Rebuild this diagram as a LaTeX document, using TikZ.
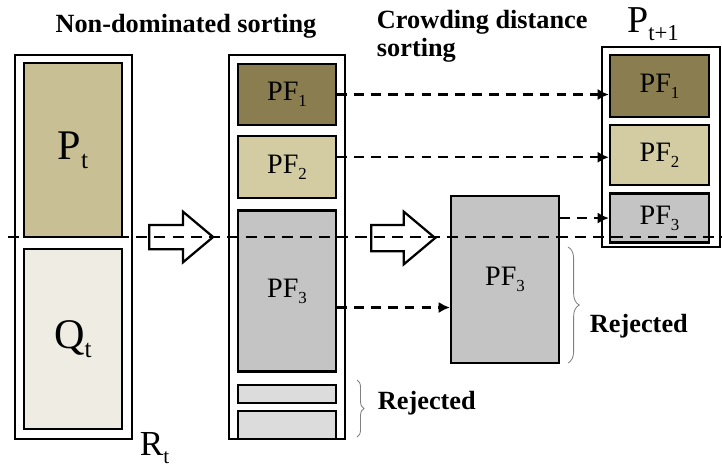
\documentclass[tikz,border=0pt]{standalone}
\usepackage{fontspec}
\setmainfont{Liberation Serif}
\usetikzlibrary{positioning,arrows.meta,shapes.arrows,decorations.pathreplacing}
\newcommand{\sbs}[1]{\raisebox{-0.45ex}{\scalebox{0.6}{#1}}}
\definecolor{pfdark}{HTML}{8A7D4F}
\definecolor{pflight}{HTML}{D3CBA2}
\definecolor{ptan}{HTML}{C9BF94}
\definecolor{qpale}{HTML}{EFEDE3}
\definecolor{pfgray}{HTML}{C4C4C4}
\definecolor{rejgray}{HTML}{DCDCDC}
\tikzset{
  frame/.style={draw,line width=1.6pt,fill=white,inner sep=0pt},
  part/.style={draw,line width=1.6pt,minimum width=2.45cm,inner sep=0pt,font=\fontsize{20}{22}\selectfont},
  flow/.style={->,line width=1.6pt,dash pattern=on 7pt off 5pt},
  cut/.style={line width=1.6pt,dash pattern=on 8pt off 5pt},
  hollow/.style={single arrow,draw,fill=white,line width=1.6pt,inner sep=0pt,anchor=tail,
    minimum height=1.6cm,single arrow head extend=0.33cm,single arrow tip angle=80},
  brc/.style={decorate,decoration={brace,amplitude=#1},draw=gray,line width=0.6pt},
  lbl/.style={font=\bfseries\fontsize{18.7}{20}\selectfont},
  >={Latex[length=8pt,width=8pt]},
}
\begin{document}
\begin{tikzpicture}[x=0.025cm,y=-0.025cm]
  \useasboundingbox (0,0) rectangle (722,469);

  \node[lbl]                 (nds) at (186,26) {Non-dominated sorting};
  \node[lbl,align=left,anchor=north west] (cds) at (372,5) {Crowding distance\\sorting};
  \node[font=\fontsize{27}{29}\selectfont] (pnext) at (653,24) {P\sbs{t+1}};

  \node[frame,minimum width=2.925cm,minimum height=9.6cm] (rt) at (73.5,247) {};
  \node[part,fill=ptan,minimum height=4.35cm,font=\fontsize{30}{32}\selectfont] (pt) at (73,150) {P\sbs{t}};
  \node[part,fill=qpale,minimum height=4.5cm,font=\fontsize{30}{32}\selectfont,below=0.25cm of pt] (qt) {Q\sbs{t}};
  \node[font=\fontsize{25}{27}\selectfont,anchor=west] (rlab) at (135,448) {R\sbs{t}};

  \node[frame,minimum width=2.9cm,minimum height=9.6cm] (mid) at (287,247) {};
  \node[part,fill=pfdark,minimum height=1.525cm] (pf1) at (287,94.5) {PF\sbs{1}};
  \node[part,fill=pflight,minimum height=1.55cm,below=0.225cm of pf1] (pf2) {PF\sbs{2}};
  \node[part,fill=pfgray,minimum height=4.025cm,below=0.25cm of pf2] (pf3) {PF\sbs{3}};
  \node[part,fill=rejgray,minimum height=0.45cm,below=0.275cm of pf3] (rej1) {};
  \node[part,fill=rejgray,minimum height=0.7cm,below=0.15cm of rej1] (rej2) {};

  \node[part,fill=pfgray,minimum width=2.7cm,minimum height=4.175cm] (big3) at (505,279.5) {PF\sbs{3}};

  \node[frame,minimum width=2.95cm,minimum height=5cm] (nxt) at (661,147) {};
  \node[part,fill=pfdark,minimum width=2.475cm,minimum height=1.55cm] (npf1) at (659.5,86) {PF\sbs{1}};
  \node[part,fill=pflight,minimum width=2.475cm,minimum height=1.5cm,below=0.15cm of npf1] (npf2) {PF\sbs{2}};
  \node[part,fill=pfgray,minimum width=2.475cm,minimum height=1.225cm,below=0.15cm of npf2] (npf3) {PF\sbs{3}};

  \node[hollow] (step1) at (148,237) {\rule{0pt}{0.55cm}};
  \node[hollow] (step2) at (370,238) {\rule{0pt}{0.6cm}};

  \draw[flow] (pf1.east) -- (pf1.east -| npf1.west);
  \draw[flow] ([yshift=0.25cm]pf2.east) -- ([yshift=0.25cm]pf2.east -| npf2.west);
  \draw[flow] (big3.east |- npf3.west) -- (npf3.west);
  \draw[flow] ([yshift=-11.7pt]pf3.east) -- ([yshift=-11.7pt]pf3.east -| big3.west);

  \coordinate (cl) at (8,237);
  \coordinate (cr) at (722,237);
  \draw[cut] (cl) -- (cr);

  \draw[brc=5pt] (357,380) -- (357,437);
  \draw[brc=8pt] (568,247) -- (568,363);
  \node[lbl,anchor=west] (rejl) at (373,403) {Rejected};
  \node[lbl,anchor=west] (rejr) at (585,326) {Rejected};
\end{tikzpicture}
\end{document}
